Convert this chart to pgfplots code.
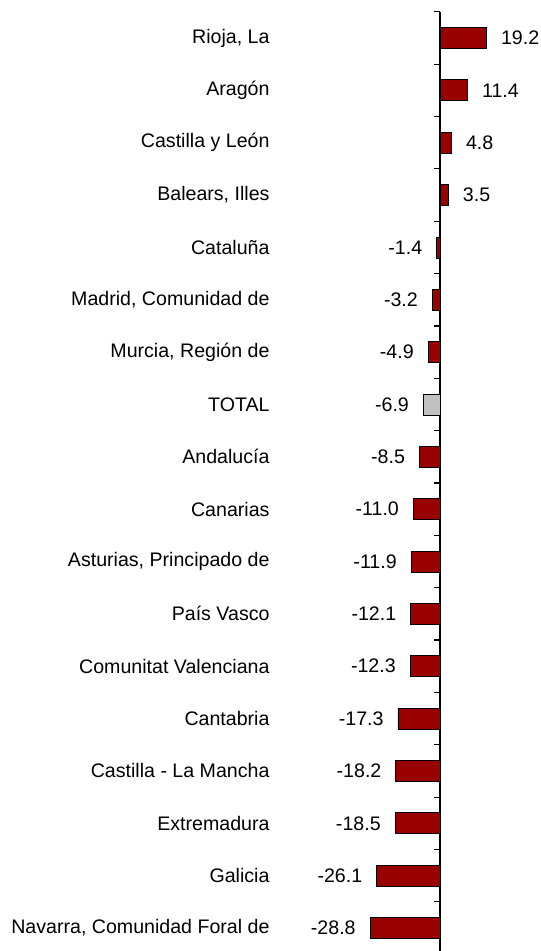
\documentclass[border=0pt]{standalone}
\usepackage{fontspec}
\setmainfont{Liberation Sans}
\usepackage{pgfplots}
\pgfplotsset{compat=1.18}
\definecolor{barred}{HTML}{990000}
\definecolor{bargray}{HTML}{C0C0C0}
\begin{document}
\begin{tikzpicture}
\begin{axis}[
  scale only axis,
  width=541bp, height=939.2bp,
  xmin=-181.1, xmax=41.56,
  ymin=0.5, ymax=18.44,
  y dir=reverse,
  axis x line=none,
  axis y line=center,
  axis line style={line width=1.5pt,-},
  clip=false,
  xbar, bar width=21bp, bar shift=0pt,
  ytick={1,...,18},
  major tick length=0pt,
  minor ytick={0.5,1.5,...,17.5},
  minor tick length=-6bp,
  tick align=inside,
  minor tick style={line width=1.2pt,black},
  yticklabels={{Rioja, La},{Aragón},{Castilla y León},{Balears, Illes},{Cataluña},{Madrid, Comunidad de},{Murcia, Región de},{TOTAL},{Andalucía},{Canarias},{Asturias, Principado de},{País Vasco},{Comunitat Valenciana},{Cantabria},{Castilla - La Mancha},{Extremadura},{Galicia},{Navarra, Comunidad Foral de}},
  yticklabel style={font=\fontsize{19.6bp}{22bp}\selectfont, anchor=east, xshift=-167bp, yshift=0bp},
  nodes near coords,
  point meta=x,
  nodes near coords style={font=\fontsize{19.6bp}{22bp}\selectfont, inner xsep=14bp,
    /pgf/number format/.cd, fixed, fixed zerofill, precision=1, assume math mode=true},
]
\addplot[fill=barred, draw=black, line width=0.8pt] coordinates {
(19.2,1) (11.4,2) (4.8,3) (3.5,4) (-1.4,5) (-3.2,6) (-4.9,7)
(-8.5,9) (-11.0,10) (-11.9,11) (-12.1,12) (-12.3,13) (-17.3,14)
(-18.2,15) (-18.5,16) (-26.1,17) (-28.8,18)};
\addplot[fill=bargray, draw=black, line width=0.8pt] coordinates {(-6.9,8)};
\coordinate (tl) at (axis cs:-181.1,0.274);
\coordinate (br) at (axis cs:41.56,18.44);
\end{axis}
\pgfresetboundingbox
\useasboundingbox (tl) rectangle (br);
\end{tikzpicture}
\end{document}
